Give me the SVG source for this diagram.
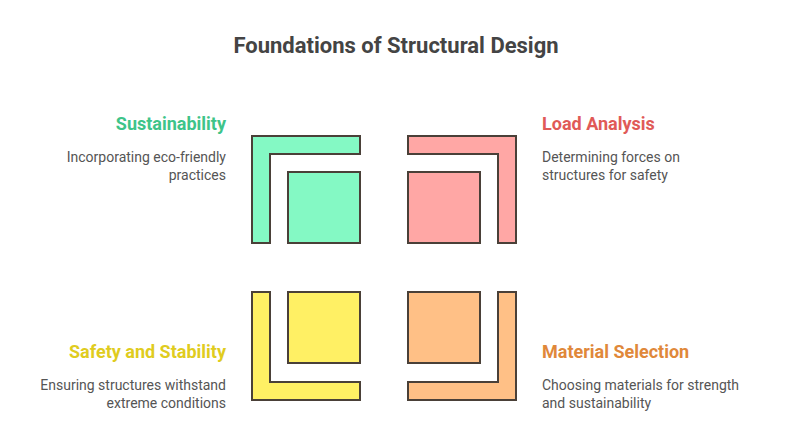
<svg xmlns="http://www.w3.org/2000/svg" width="792" height="424" viewBox="0 0 792 424">
<style>
.s{stroke:#4a4038;stroke-width:2;stroke-linejoin:miter}
.t{font-family:Roboto,"Liberation Sans",sans-serif;font-size:18px;font-weight:bold}
.d{font-family:Roboto,"Liberation Sans",sans-serif;font-size:14px;fill:#555}
</style>
<rect width="792" height="424" fill="#fff"/>
<text x="396" y="53" text-anchor="middle" font-family="Roboto,'Liberation Sans',sans-serif" font-size="22" font-weight="bold" fill="#444">Foundations of Structural Design</text>
<g id="sustainability">
<path class="s" fill="#84f9c4" d="M252 136H360V154H270V243H252Z"/>
<rect class="s" fill="#84f9c4" x="288" y="172" width="72" height="71"/>
<text class="t" x="226" y="130" text-anchor="end" fill="#3ec489">Sustainability</text>
<text class="d" x="226" y="162" text-anchor="end">Incorporating eco-friendly</text>
<text class="d" x="226" y="180" text-anchor="end">practices</text>
</g>
<g id="load">
<path class="s" fill="#ffa7a5" d="M408 136H516V243H498V154H408Z"/>
<rect class="s" fill="#ffa7a5" x="408" y="172" width="72" height="71"/>
<text class="t" x="542" y="130" fill="#e05a57">Load Analysis</text>
<text class="d" x="542" y="162">Determining forces on</text>
<text class="d" x="542" y="180">structures for safety</text>
</g>
<g id="safety">
<path class="s" fill="#fff064" d="M252 292H270V382H360V400H252Z"/>
<rect class="s" fill="#fff064" x="288" y="292" width="72" height="71"/>
<text class="t" x="226" y="358" text-anchor="end" fill="#e0cc1e">Safety and Stability</text>
<text class="d" x="226" y="390" text-anchor="end">Ensuring structures withstand</text>
<text class="d" x="226" y="408" text-anchor="end">extreme conditions</text>
</g>
<g id="material">
<path class="s" fill="#ffc086" d="M498 292H516V400H408V382H498Z"/>
<rect class="s" fill="#ffc086" x="408" y="292" width="72" height="71"/>
<text class="t" x="542" y="358" fill="#e0883a">Material Selection</text>
<text class="d" x="542" y="390">Choosing materials for strength</text>
<text class="d" x="542" y="408">and sustainability</text>
</g>
<g id="connectors"/>
</svg>
